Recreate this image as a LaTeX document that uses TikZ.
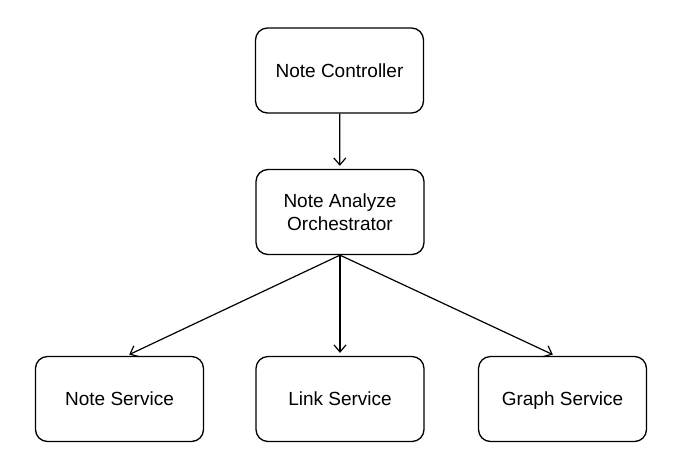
\documentclass[tikz,border=0pt]{standalone}
\usepackage{fontspec}
\setmainfont{Liberation Sans}
\usetikzlibrary{arrows.meta}
\tikzset{box/.style = {shape=rectangle,draw,rounded corners=12pt,line width=1.3pt,minimum width=168pt,minimum height=85pt,inner sep=0pt,align=center,font=\fontsize{19}{23}\selectfont}}
\tikzset{oneline/.style = {box,text height=13.5pt,text depth=0pt}}
\tikzset{edge/.style = {-{Straight Barb[length=7pt,width=12pt]},line width=1.2pt,shorten >=3pt}}

\begin{document}
\begin{tikzpicture}[x=1pt,y=-1pt]
                    \useasboundingbox (0,0) rectangle (684,469);
                    \node[oneline] (ctrl) at (339.5,70.5) {Note Controller};
                    \node[box] (orch) at (340,212) {Note Analyze\\Orchestrator};
                    \node[oneline] (note) at (119.5,399) {Note Service};
                    \node[oneline] (link) at (340,399) {Link Service};
                    \node[oneline] (graph) at (562.5,399) {Graph Service};

                    \draw[edge] (ctrl) -- (orch);
                    \draw[edge] (orch.south) -- ([xshift=7pt]note.north);
                    \draw[edge] (orch.south) -- (link.north);
                    \draw[edge] (orch.south) -- ([xshift=-7pt]graph.north);
                \end{tikzpicture}
\end{document}
